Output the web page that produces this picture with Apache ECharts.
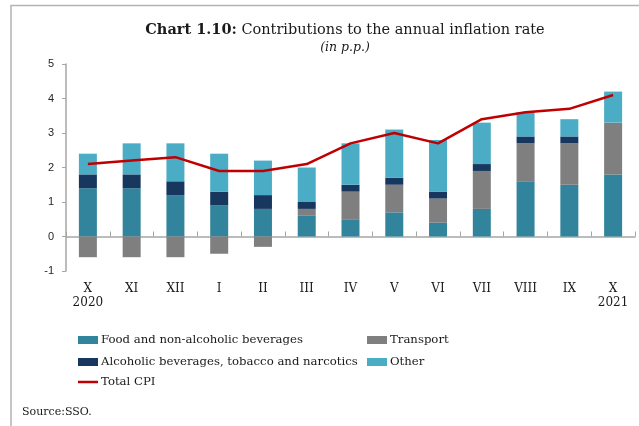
<!DOCTYPE html>
<html style="height: 100%">
<head>
    <meta charset="utf-8">
    <script type="text/javascript" src="https://cdn.jsdelivr.net/npm/echarts@6/dist/echarts.min.js"></script>
</head>
<body style="height: 100%; margin: 0">
<div id="container" style="width: 639px; height: 426px;"></div>
<script type="text/javascript">
var months = ['X\n2020', 'XI', 'XII', 'I', 'II', 'III', 'IV', 'V', 'VI', 'VII', 'VIII', 'IX', 'X\n2021'];
var food = [1.4, 1.4, 1.2, 0.9, 0.8, 0.6, 0.5, 0.7, 0.4, 0.8, 1.6, 1.5, 1.8];
var transport = [-0.6, -0.6, -0.6, -0.5, -0.3, 0.2, 0.8, 0.8, 0.7, 1.1, 1.1, 1.2, 1.5];
var alcohol = [0.4, 0.4, 0.4, 0.4, 0.4, 0.2, 0.2, 0.2, 0.2, 0.2, 0.2, 0.2, 0];
var other = [0.6, 0.9, 1.1, 1.1, 1.0, 1.0, 1.2, 1.4, 1.5, 1.2, 0.7, 0.5, 0.9];
var totalCpi = [2.1, 2.2, 2.3, 1.9, 1.9, 2.1, 2.7, 3.0, 2.7, 3.4, 3.6, 3.7, 4.1];

var serif = 'DejaVu Serif';
var axisGray = '#a6a6a6';
var legendText = { fontFamily: serif, fontSize: 11.7, color: '#1a1a1a', padding: [0, 0, 0, -2] };

var dom = document.getElementById('container');
var myChart = echarts.init(dom);

function bar(name, data, color) {
    return {
        name: name,
        type: 'bar',
        stack: 'contrib',
        data: data,
        barWidth: 18,
        itemStyle: { color: color },
        emphasis: { disabled: true }
    };
}

var option = {
    animation: false,
    title: {
        text: '{b|Chart 1.10:} Contributions to the annual inflation rate',
        subtext: '(in p.p.)',
        left: 340,
        top: 18,
        textAlign: 'center',
        itemGap: 3,
        textStyle: {
            fontFamily: serif,
            fontSize: 14.5,
            fontWeight: 'normal',
            color: '#1a1a1a',
            rich: {
                b: { fontFamily: serif, fontSize: 14.5, fontWeight: 'bold', color: '#1a1a1a' }
            }
        },
        subtextStyle: {
            fontFamily: serif,
            fontSize: 12.5,
            fontStyle: 'italic',
            color: '#1a1a1a'
        }
    },
    legend: [{
        data: ['Food and non-alcoholic beverages', 'Alcoholic beverages, tobacco and narcotics'],
        orient: 'vertical',
        left: 78,
        top: 334,
        padding: 0,
        icon: 'rect',
        itemWidth: 20,
        itemHeight: 8,
        itemGap: 10,
        textStyle: legendText
    }, {
        data: ['Transport', 'Other'],
        orient: 'vertical',
        left: 367,
        top: 334,
        padding: 0,
        icon: 'rect',
        itemWidth: 20,
        itemHeight: 8,
        itemGap: 10,
        textStyle: legendText
    }, {
        data: ['Total CPI'],
        left: 78,
        top: 376,
        padding: 0,
        icon: 'rect',
        itemWidth: 20,
        itemHeight: 2.5,
        textStyle: legendText
    }],
    grid: {
        left: 66,
        right: 4,
        top: 64,
        bottom: 155
    },
    xAxis: [{
        type: 'category',
        data: months,
        position: 'bottom',
        axisLine: { show: false, onZero: false },
        axisTick: { show: false },
        axisLabel: {
            margin: 11,
            fontFamily: serif,
            fontSize: 12,
            lineHeight: 14,
            color: '#1a1a1a',
            interval: 0
        }
    }, {
        type: 'category',
        data: months,
        axisLine: { show: true, onZero: true, lineStyle: { color: axisGray, width: 1.5 } },
        axisTick: { show: true, length: 5, lineStyle: { color: axisGray } },
        axisLabel: { show: false }
    }],
    yAxis: {
        type: 'value',
        min: -1,
        max: 5,
        interval: 1,
        splitLine: { show: false },
        axisLine: { show: true, lineStyle: { color: axisGray, width: 1.5 } },
        axisTick: { show: true, length: 4, lineStyle: { color: axisGray } },
        axisLabel: {
            margin: 12,
            fontFamily: 'Liberation Sans',
            fontSize: 11,
            color: '#262626'
        }
    },
    series: [
        bar('Food and non-alcoholic beverages', food, '#31849b'),
        bar('Transport', transport, '#7f7f7f'),
        bar('Alcoholic beverages, tobacco and narcotics', alcohol, '#17375e'),
        bar('Other', other, '#4bacc6'),
        {
            name: 'Total CPI',
            type: 'line',
            data: totalCpi,
            symbol: 'none',
            lineStyle: { color: '#c00000', width: 2.5 },
            itemStyle: { color: '#c00000' },
            z: 5
        }
    ],
    graphic: [{
        type: 'polyline',
        shape: { points: [[11, 426], [11, 5.5], [639, 5.5]] },
        style: { stroke: '#b3b3b3', lineWidth: 1.5, fill: null },
        silent: true
    }, {
        type: 'text',
        left: 22,
        top: 407,
        style: { text: 'Source:SSO.', font: '11px "DejaVu Serif"', fill: '#1a1a1a' }
    }]
};

myChart.setOption(option);
</script>
</body>
</html>
